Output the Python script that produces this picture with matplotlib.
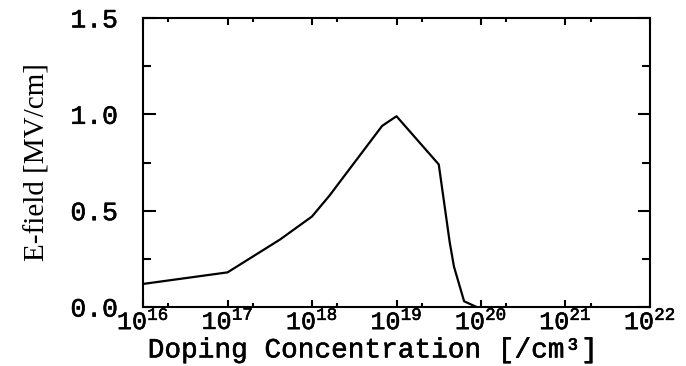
"""E-field versus doping concentration, redrawn from a scanned figure."""

import matplotlib
matplotlib.use("Agg")
import matplotlib.pyplot as plt
import matplotlib.patheffects as pe
from matplotlib.ticker import FixedLocator, FixedFormatter
import numpy as np

# Curve (log10 of doping, field in MV/cm)
log_doping = [16.0, 17.0, 17.62, 18.0, 18.21, 18.33, 18.83, 19.0,
              19.5, 19.63, 19.68, 19.8, 19.95]
e_field = [0.12, 0.18, 0.35, 0.47, 0.58, 0.65, 0.94, 0.99,
           0.74, 0.335, 0.21, 0.03, 0.0]

x_decades = [16, 17, 18, 19, 20, 21, 22]
x_tick_labels = [r"$\mathrm{10^{%d}}$" % d for d in x_decades]
y_ticks = [0.0, 0.5, 1.0, 1.5]
y_tick_labels = ["0.0", "0.5", "1.0", "1.5"]

plt.rcParams["mathtext.fontset"] = "custom"
plt.rcParams["mathtext.rm"] = "Liberation Mono"
plt.rcParams["mathtext.it"] = "Liberation Mono"

mono = "Liberation Mono"
# slight stroke so the thin Courier-like face reads like the scanned type
heavier = [pe.withStroke(linewidth=0.4, foreground="black")]

fig = plt.figure(figsize=(6.86, 3.66), dpi=100)
ax = fig.add_axes([0.2085, 0.161, 0.739, 0.790])

doping = 10.0 ** np.array(log_doping)
ax.plot(doping, e_field, color="black", linewidth=1.6)

ax.set_xscale("log")
ax.set_xlim(1e16, 1e22)
ax.set_ylim(0, 1.5)

# x ticks: decades plus a small mark at 2 x 10^n
ax.xaxis.set_major_locator(FixedLocator([10.0 ** d for d in x_decades]))
ax.xaxis.set_major_formatter(FixedFormatter(x_tick_labels))
ax.xaxis.set_minor_locator(FixedLocator([2 * 10.0 ** d for d in x_decades[:-1]]))
ax.xaxis.set_minor_formatter(FixedFormatter([]))

ax.set_yticks(y_ticks)
ax.set_yticklabels(y_tick_labels)
ax.set_yticks([0.25, 0.75, 1.25], minor=True)

ax.tick_params(axis="both", which="both", direction="in",
               top=True, right=True, width=1.5, color="black")
ax.tick_params(axis="y", which="major", length=9, pad=18)
ax.tick_params(axis="y", which="minor", length=6)
ax.tick_params(axis="x", which="major", length=5, pad=1)
ax.tick_params(axis="x", which="minor", length=3)

for lab in ax.get_yticklabels():
    lab.set_fontfamily(mono)
    lab.set_fontsize(19)
    lab.set_path_effects(heavier)
for lab in ax.get_xticklabels():
    lab.set_fontsize(18)
    lab.set_path_effects(heavier)

for sp in ax.spines.values():
    sp.set_linewidth(1.5)

xl = ax.set_xlabel("Doping Concentration [/cm³]", fontfamily=mono, fontsize=20)
xl.set_path_effects(heavier)
ax.xaxis.set_label_coords(0.452, -0.105)
ax.set_ylabel("E-field [MV/cm]", fontfamily="Liberation Serif", fontsize=21)
ax.yaxis.set_label_coords(-0.183, 0.5)

fig.savefig("out.png", dpi=100)
plt.close(fig)
